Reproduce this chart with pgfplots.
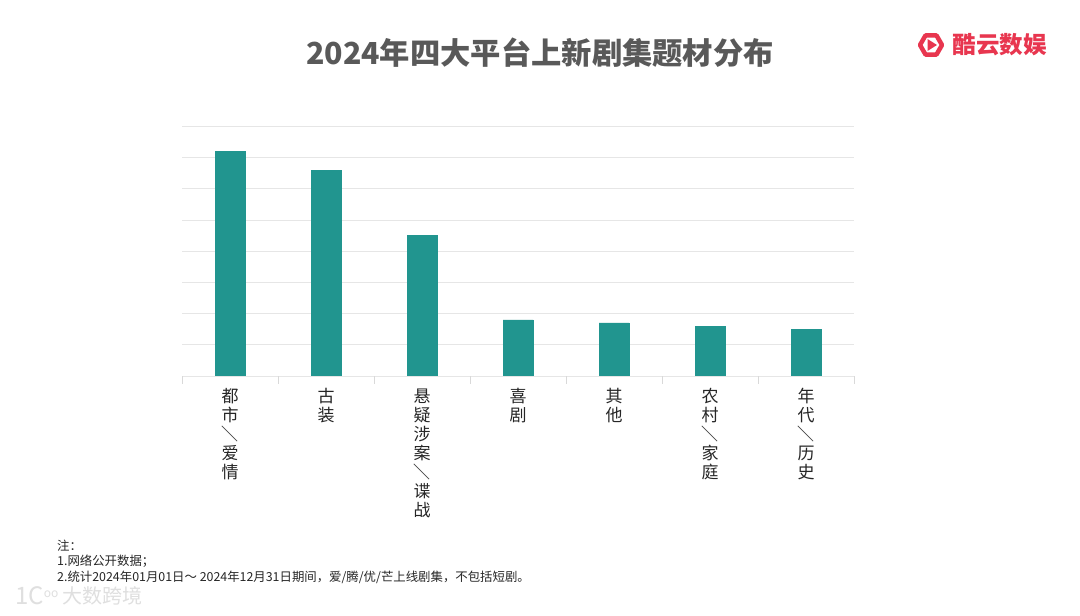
\documentclass[border=0pt]{standalone}
\usepackage{fontspec}
\setmainfont{Noto Sans CJK SC}
\usepackage{pgfplots}
\pgfplotsset{compat=1.18}
\definecolor{barteal}{RGB}{33,149,143}
\definecolor{titlegray}{RGB}{89,89,89}
\definecolor{gridgray}{RGB}{230,230,230}
\definecolor{tickgray}{RGB}{217,217,217}
\definecolor{logored}{RGB}{232,54,79}
\newcommand{\vs}{\rotatebox[origin=c]{-90}{／}}

\begin{document}
\begin{tikzpicture}[x=1pt,y=1pt]
\path[fill=white] (0,0) rectangle (1080,616);

% title
\node[font=\bfseries\fontsize{30.3}{34}\selectfont, text=titlegray] at (540,563) {2024年四大平台上新剧集题材分布};

% logo
\begin{scope}[shift={(931,571)}]
  \draw[logored, line width=4.5pt, line join=round]
    (0:11) -- (60:11) -- (120:11) -- (180:11) -- (240:11) -- (300:11) -- cycle;
  \fill[logored] (-3.5,-6) -- (6,0) -- (-3.5,6) -- cycle;
\end{scope}
\node[font=\bfseries\fontsize{23.5}{26}\selectfont, text=logored, anchor=west] at (949,571) {酷云数娱};

\begin{axis}[
  at={(182pt,240pt)}, anchor=south west,
  scale only axis, width=672pt, height=249.6pt,
  xmin=0, xmax=7, ymin=0, ymax=8,
  xtick={0,...,7},
  x tick label as interval,
  xticklabels={{都\\市\\\vs\\爱\\情},{古\\装},{悬\\疑\\涉\\案\\\vs\\谍\\战},{喜\\剧},{其\\他},{农\\村\\\vs\\家\\庭},{年\\代\\\vs\\历\\史}},
  xticklabel style={align=center, anchor=north, text=black!85, font=\fontsize{17}{19}\selectfont, yshift=-1pt},
  ytick={0,...,8}, yticklabels={},
  ymajorgrids, major grid style={draw=gridgray, line width=0.9pt},
  axis line style={draw=none},
  xtick pos=left, tick align=outside, major tick length=8pt,
  xtick style={draw=tickgray, line width=0.9pt},
  ytick style={draw=none},
]
\addplot[ybar, bar width=30pt, fill=barteal, draw=barteal]
  coordinates {(0.5,7.2) (1.5,6.6) (2.5,4.5) (3.5,1.8) (4.5,1.7) (5.5,1.6) (6.5,1.5)};
\end{axis}

% notes
\node[anchor=north west, align=left, font=\fontsize{12.4}{15.3}\selectfont, text=black!85, inner sep=0pt] at (57,76)
  {注：\\1.网络公开数据；\\2.统计2024年01月01日～ 2024年12月31日期间，爱/腾/优/芒上线剧集，不包括短剧。};

% watermark
\node[anchor=west, text=gray!25, inner sep=0pt] at (15,20)
  {{\fontsize{24}{24}\selectfont 1C}\raisebox{7pt}{\fontsize{12}{12}\selectfont oo}};
\node[anchor=west, font=\fontsize{20}{22}\selectfont, text=gray!25, inner sep=0pt] at (62,20) {大数跨境};
\end{tikzpicture}
\end{document}
